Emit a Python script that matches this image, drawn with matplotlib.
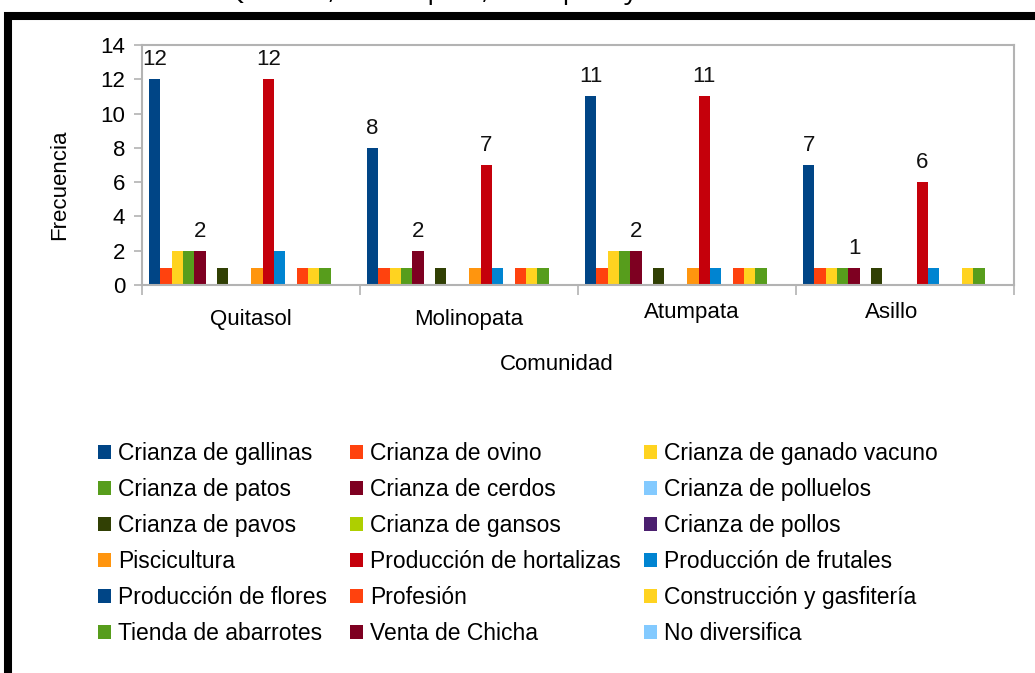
import numpy as np
import matplotlib
matplotlib.use('Agg')
import matplotlib.pyplot as plt
import matplotlib.transforms as mtransforms
from matplotlib.patches import Rectangle
from matplotlib.font_manager import FontProperties

plt.rcParams['font.family'] = ['Liberation Sans', 'DejaVu Sans']

comunidades = ['Quitasol', 'Molinopata', 'Atumpata', 'Asillo']
actividades = ['Crianza de gallinas', 'Crianza de ovino', 'Crianza de ganado vacuno',
               'Crianza de patos', 'Crianza de cerdos', 'Crianza de polluelos',
               'Crianza de pavos', 'Crianza de gansos', 'Crianza de pollos',
               'Piscicultura', 'Producción de hortalizas', 'Producción de frutales',
               'Producción de flores', 'Profesión', 'Construcción y gasfitería',
               'Tienda de abarrotes', 'Venta de Chicha', 'No diversifica']

# frecuencia de cada actividad, en el orden de "actividades"
quitasol = [12, 1, 2, 2, 2, 0, 1, 0, 0, 1, 12, 2, 0, 1, 1, 1, 0, 0]
molinopata = [8, 1, 1, 1, 2, 0, 1, 0, 0, 1, 7, 1, 0, 1, 1, 1, 0, 0]
atumpata = [11, 1, 2, 2, 2, 0, 1, 0, 0, 1, 11, 1, 0, 1, 1, 1, 0, 0]
asillo = [7, 1, 1, 1, 1, 0, 1, 0, 0, 0, 6, 1, 0, 0, 1, 1, 0, 0]

con_etiqueta = ['Crianza de gallinas', 'Crianza de cerdos', 'Producción de hortalizas']
titulo = 'Quitasol, Molinopata, Atumpata y Asillo'

paleta = ['#004586', '#ff420e', '#ffd320', '#579d1c', '#7e0021', '#83caff',
          '#314004', '#aecf00', '#4b1f6f', '#ff950e', '#c5000b', '#0084d1']
colores = paleta + paleta[:6]
gris = '#b3b3b3'

W, H = 1035, 673
fig = plt.figure(figsize=(W / 100, H / 100), dpi=100)
ax = fig.add_axes([142 / W, 1 - 285 / H, (1014 - 142) / W, 240 / H])

datos = np.array([quitasol, molinopata, atumpata, asillo])
x = np.arange(len(comunidades))
ancho = 0.0521
inicio = 0.032
for j, nombre in enumerate(actividades):
    barras = ax.bar(x + inicio + j * ancho, datos[:, j], width=ancho, align='edge',
                    color=colores[j], label=nombre)
    if nombre in con_etiqueta:
        ax.bar_label(barras, padding=6.5, fontsize=16, color='#111111')

ax.set_xlim(0, 4)
ax.set_ylim(0, 14)
ax.set_yticks(range(0, 15, 2))
ax.set_xticks(range(5))
ax.set_xticklabels([])
ax.set_xticks(x + 0.5, minor=True)
ax.set_xticklabels(comunidades, minor=True)
ax.tick_params(axis='x', which='major', length=7.5, width=1.2, color=gris)
ax.tick_params(axis='x', which='minor', length=0, pad=17, labelsize=16)
ax.tick_params(axis='y', length=6, width=1.2, color=gris, pad=6, labelsize=16)
for s in ax.spines.values():
    s.set_color(gris)
    s.set_linewidth(1.5)

desplaz = {'Atumpata': (0.05, 0.07), 'Asillo': (-0.13, 0.07)}
for lbl in ax.get_xticklabels(minor=True):
    if lbl.get_text() in desplaz:
        dx, dy = desplaz[lbl.get_text()]
        lbl.set_transform(lbl.get_transform() +
                          mtransforms.ScaledTranslation(dx, dy, fig.dpi_scale_trans))

fig.text(60 / W, 1 - 185 / H, 'Frecuencia', rotation=90, ha='center', va='center', fontsize=16)
fig.text(557 / W, 1 - 365 / H, 'Comunidad', ha='center', va='center', fontsize=16)

handles, labels = ax.get_legend_handles_labels()
orden = [i for c in range(3) for i in range(c, len(labels), 3)]
fig.legend([handles[i] for i in orden], [labels[i] for i in orden], ncol=3,
           loc='upper left', bbox_to_anchor=(98 / W, 1 - 442 / H), frameon=False,
           fontsize=16.5, handlelength=0.58, handleheight=0.58, handletextpad=0.3,
           columnspacing=1.0, labelspacing=0.57, borderpad=0, borderaxespad=0)

# marco negro recortado y resto del titulo cortado arriba
fig.add_artist(Rectangle((8 / W, -0.5), 2, (1 - 16 / H) + 0.5, transform=fig.transFigure,
                         fill=False, lw=5.8, ec='black'))

# el titulo se ve cortado: ubicar la primera coma en x=328 px
rend = fig.canvas.get_renderer()
fp = FontProperties(family='Open Sans', size=19)
ancho_q = rend.get_text_width_height_descent('Quitasol', fp, ismath=False)[0]
fig.text((328 - ancho_q) / W, 1 + 1 / H, titulo, ha='left', va='baseline',
         fontproperties=fp)

fig.savefig('out.png', dpi=100)
